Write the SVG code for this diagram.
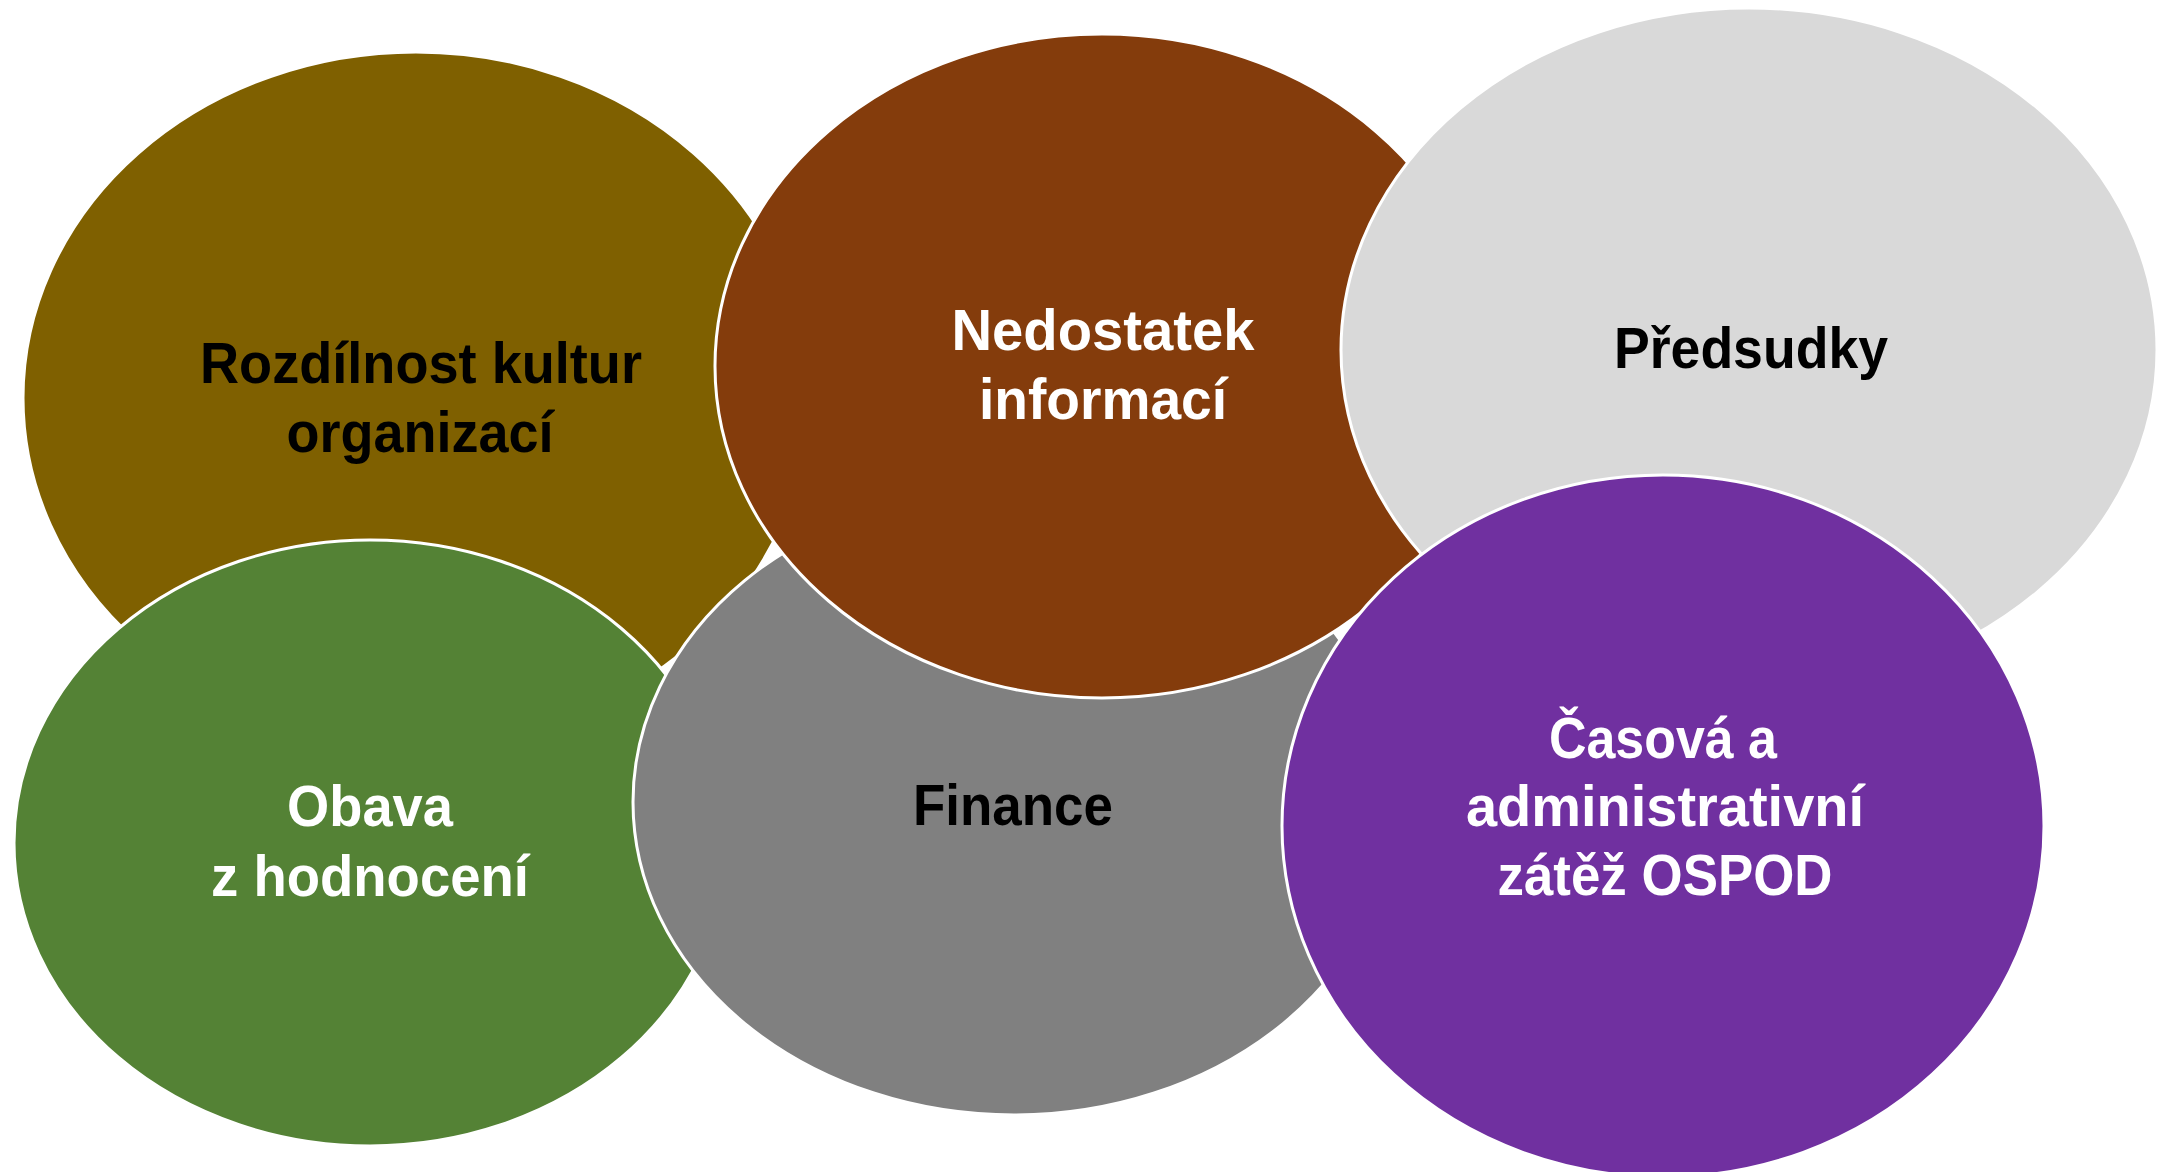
<svg xmlns="http://www.w3.org/2000/svg" width="2170" height="1172" viewBox="0 0 2170 1172">
<style>
.bub{stroke:#ffffff;stroke-width:3}
.t{font-family:"Liberation Sans",Arial,sans-serif;font-weight:bold;font-size:57px;text-anchor:middle}
.dk{fill:#000000}
.lt{fill:#ffffff}
</style>
<rect width="2170" height="1172" fill="#ffffff"/>
<g id="connectors"></g>
<g id="node-rozdilnost">
<ellipse class="bub" cx="416" cy="398" rx="393" ry="346" fill="#7F6000"/>
<text class="t dk" x="421" y="383" textLength="442" lengthAdjust="spacingAndGlyphs">Rozdílnost kultur</text>
<text class="t dk" x="420" y="452" textLength="267" lengthAdjust="spacingAndGlyphs">organizací</text>
</g>
<g id="node-obava">
<ellipse class="bub" cx="370" cy="843" rx="356" ry="303" fill="#548235"/>
<text class="t lt" x="370" y="826" textLength="166" lengthAdjust="spacingAndGlyphs">Obava</text>
<text class="t lt" x="370" y="896" textLength="318" lengthAdjust="spacingAndGlyphs">z hodnocení</text>
</g>
<g id="node-finance">
<ellipse class="bub" cx="1014" cy="802" rx="381" ry="313" fill="#808080"/>
<text class="t dk" x="1013" y="825" textLength="200" lengthAdjust="spacingAndGlyphs">Finance</text>
</g>
<g id="node-nedostatek">
<ellipse class="bub" cx="1102" cy="366" rx="387" ry="332" fill="#843C0C"/>
<text class="t lt" x="1103" y="350" textLength="303" lengthAdjust="spacingAndGlyphs">Nedostatek</text>
<text class="t lt" x="1103" y="419" textLength="248" lengthAdjust="spacingAndGlyphs">informací</text>
</g>
<g id="node-predsudky">
<ellipse class="bub" cx="1749" cy="350" rx="408" ry="342" fill="#D9D9D9"/>
<text class="t dk" x="1751" y="368" textLength="274" lengthAdjust="spacingAndGlyphs">Předsudky</text>
</g>
<g id="node-casova">
<ellipse class="bub" cx="1663" cy="826" rx="381" ry="351" fill="#7030A0"/>
<text class="t lt" x="1663" y="758" textLength="228" lengthAdjust="spacingAndGlyphs">Časová a</text>
<text class="t lt" x="1665" y="826" textLength="398" lengthAdjust="spacingAndGlyphs">administrativní</text>
<text class="t lt" x="1665" y="895" textLength="335" lengthAdjust="spacingAndGlyphs">zátěž OSPOD</text>
</g>
</svg>
